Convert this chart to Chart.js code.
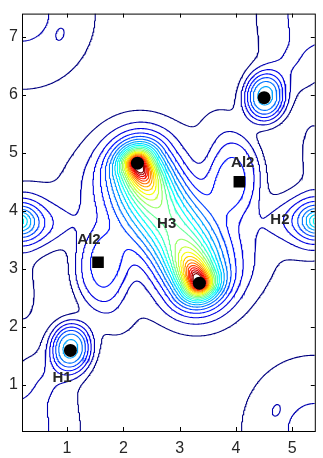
<!DOCTYPE html>
<html>
<head>
<meta charset="utf-8">
<script src="https://cdn.jsdelivr.net/npm/chart.js@4.4.1/dist/chart.umd.min.js"></script>
<style>
  html, body { margin: 0; padding: 0; background: #fff; }
  #wrap { width: 323px; height: 458px; }
</style>
</head>
<body>
<div id="wrap"><canvas id="myChart"></canvas></div>
<script>
// axis ranges and ticks
const xRange = [0.2, 5.4];
const yRange = [0.2, 7.4];
const xTicks = [1, 2, 3, 4, 5];
const yTicks = [1, 2, 3, 4, 5, 6, 7];

// black dots (H atoms) and black squares (Al2)
const atomX = [2.25, 3.35, 1.06, 4.50];
const atomY = [4.82, 2.75, 1.59, 5.95];
const alX = [1.55, 4.06];
const alY = [3.11, 4.50];

// text labels
const labelText = ['Al2', 'Al2', 'H3', 'H2', 'H1'];
const labelX = [1.39, 4.12, 2.77, 4.78, 0.91];
const labelY = [3.49, 4.82, 3.78, 3.85, 1.11];

// the H3 pair: peak height (contour steps) and decay lengths
const h3X = [2.25, 3.35];
const h3Y = [4.82, 2.75];
const h3Height = 27;
const h3Outer = 0.25;   // away from the partner
const h3Inner = 0.53;   // towards the partner
const h3Side = 0.28;
const ridgeHeight = 1.4;
const ridgeLength = 1.25;
const ridgeWidth = 0.74;

// other density bumps: centre, height (contour steps),
// width along the long axis, short/long ratio, angle of long axis, sharpness
//                 cloud  H1    H1'   H2r   H2l   H2r~  H2l~  Al2   Al2'  cA    cA'   cB    cB'   isl   isl'  br    br'   H1~   H1'~  edge  edge'
const srcX      = [2.79,  1.07, 4.51, 5.43, 0.17, 5.00, 0.58, 1.60, 3.98, 0.20, 5.40, 0.20, 5.40, 0.89, 4.70, 1.85, 3.73, 0.70, 4.88, 0.22, 5.38];
const srcY      = [3.80,  1.64, 5.96, 3.82, 3.82, 3.85, 3.75, 2.98, 4.62, 7.40, 0.20, 0.20, 7.40, 7.03, 0.57, 2.10, 5.50, 1.15, 6.45, 2.55, 5.05];
const srcHeight = [3.8,   7.0,  7.0,  8.5,  8.5,  1.6,  1.6,  3.8,  3.8,  2.13, 2.13, 2.3,  2.3,  0.5,  0.5,  1.0,  1.0,  1.0,  1.0,  1.3,  1.3];
const srcWidth  = [1.50,  0.42, 0.42, 0.34, 0.34, 0.70, 0.70, 0.68, 0.68, 1.40, 1.40, 1.07, 1.07, 0.17, 0.17, 0.50, 0.50, 0.45, 0.45, 0.60, 0.60];
const srcRatio  = [0.47,  0.85, 0.85, 1,    1,    0.55, 0.55, 0.72, 0.72, 1,    1,    1,    1,    0.6,  0.6,  1,    1,    1,    1,    0.5,  0.5];
const srcAngle  = [-22,   90,   90,   0,    0,    0,    0,    90,   90,   0,    0,    0,    0,    70,   70,   0,    0,    0,    0,    90,   90];
const srcPower  = [2,     2.6,  2.6,  1.3,  1.3,  2,    2,    3,    3,    2,    2,    2,    2,    2,    2,    2,    2,    2,    2,    2,    2];
const baseLevel = 0.1;

// contour levels
const levels = [1, 2, 3, 4, 5, 6, 7, 8, 9, 10, 11, 12, 13, 14, 15, 16, 17, 18, 19, 20, 21, 22];

const bx = h3X[1] - h3X[0], by = h3Y[1] - h3Y[0];
const bl = Math.hypot(bx, by), ux = bx / bl, uy = by / bl;
const mx = (h3X[0] + h3X[1]) / 2, my = (h3Y[0] + h3Y[1]) / 2;

function density(x, y) {
    let f = baseLevel;
    for (let i = 0; i < srcX.length; i++) {
        const t = srcAngle[i] * Math.PI / 180;
        const dx = x - srcX[i], dy = y - srcY[i];
        const a = (dx * Math.cos(t) + dy * Math.sin(t)) / srcWidth[i];
        const b = (-dx * Math.sin(t) + dy * Math.cos(t)) / (srcWidth[i] * srcRatio[i]);
        f += srcHeight[i] * Math.exp(-Math.pow(Math.hypot(a, b), srcPower[i]));
    }
    // H3 peaks, stretched towards each other
    for (let i = 0; i < 2; i++) {
        const sign = i === 0 ? 1 : -1;
        const dx = x - h3X[i], dy = y - h3Y[i];
        const s = sign * (dx * ux + dy * uy);
        const p = -dx * uy + dy * ux;
        const a = s / (s > 0 ? h3Inner : h3Outer);
        f += h3Height * Math.exp(-Math.hypot(a, p / h3Side));
    }
    // ridge between them
    const s = ((x - mx) * ux + (y - my) * uy) / ridgeLength;
    const d = (-(x - mx) * uy + (y - my) * ux) / ridgeWidth;
    f += ridgeHeight * Math.exp(-Math.pow(s, 4) - d * d);
    return f;
}

// matlab jet colours
function jet(v) {
    const c = t => Math.max(0, Math.min(1, t));
    const r = c(1.5 - Math.abs(4 * v - 3));
    const g = c(1.5 - Math.abs(4 * v - 2));
    const b = c(1.5 - Math.abs(4 * v - 1));
    return 'rgb(' + Math.round(r * 255) + ',' + Math.round(g * 255) + ',' + Math.round(b * 255) + ')';
}

// sample the field on a grid
const step = 0.02;
const nx = Math.round((xRange[1] - xRange[0]) / step) + 1;
const ny = Math.round((yRange[1] - yRange[0]) / step) + 1;
const grid = new Float64Array(nx * ny);
for (let j = 0; j < ny; j++) {
    for (let i = 0; i < nx; i++) {
        grid[j * nx + i] = density(xRange[0] + i * step, yRange[0] + j * step);
    }
}

// marching squares, then join segments into lines
function contourLines(L) {
    const pts = new Map();
    const segs = [];
    const hid = (i, j) => 2 * (j * nx + i);
    const vid = (i, j) => 2 * (j * nx + i) + 1;
    function point(id) {
        if (pts.has(id)) return;
        const k = id >> 1, i = k % nx, j = (k - i) / nx;
        const a = grid[k];
        if (id & 1) {
            const t = (L - a) / (grid[k + nx] - a);
            pts.set(id, {x: xRange[0] + i * step, y: yRange[0] + (j + t) * step});
        } else {
            const t = (L - a) / (grid[k + 1] - a);
            pts.set(id, {x: xRange[0] + (i + t) * step, y: yRange[0] + j * step});
        }
    }
    for (let j = 0; j < ny - 1; j++) {
        for (let i = 0; i < nx - 1; i++) {
            const v0 = grid[j * nx + i], v1 = grid[j * nx + i + 1];
            const v2 = grid[(j + 1) * nx + i + 1], v3 = grid[(j + 1) * nx + i];
            const c = (v0 > L ? 1 : 0) | (v1 > L ? 2 : 0) | (v2 > L ? 4 : 0) | (v3 > L ? 8 : 0);
            if (c === 0 || c === 15) continue;
            const e = [hid(i, j), vid(i + 1, j), hid(i, j + 1), vid(i, j)];
            const mid = (v0 + v1 + v2 + v3) / 4 > L;
            let list;
            switch (c) {
                case 1: case 14: list = [[3, 0]]; break;
                case 2: case 13: list = [[0, 1]]; break;
                case 3: case 12: list = [[3, 1]]; break;
                case 4: case 11: list = [[1, 2]]; break;
                case 6: case 9: list = [[0, 2]]; break;
                case 7: case 8: list = [[3, 2]]; break;
                case 5: list = mid ? [[0, 1], [2, 3]] : [[3, 0], [1, 2]]; break;
                case 10: list = mid ? [[3, 0], [1, 2]] : [[0, 1], [2, 3]]; break;
            }
            list.forEach(s => {
                point(e[s[0]]); point(e[s[1]]);
                segs.push([e[s[0]], e[s[1]]]);
            });
        }
    }
    const byEdge = new Map();
    segs.forEach((s, n) => {
        s.forEach(id => {
            if (!byEdge.has(id)) byEdge.set(id, []);
            byEdge.get(id).push(n);
        });
    });
    const used = new Uint8Array(segs.length);
    const out = [];
    function walk(start, n) {
        const chain = [];
        let id = start, cur = n;
        while (cur !== undefined && !used[cur]) {
            used[cur] = 1;
            const s = segs[cur];
            id = s[0] === id ? s[1] : s[0];
            chain.push(id);
            cur = byEdge.get(id).find(m => !used[m]);
        }
        return chain;
    }
    segs.forEach((s, n) => {
        if (used[n]) return;
        used[n] = 1;
        const fwd = walk(s[1], byEdge.get(s[1]).find(m => !used[m]));
        const bwd = walk(s[0], byEdge.get(s[0]).find(m => !used[m]));
        const ids = bwd.reverse().concat([s[0], s[1]], fwd);
        ids.forEach(id => out.push(pts.get(id)));
        out.push({x: out[out.length - 1].x, y: null});
    });
    return out;
}

const datasets = [];
datasets.push({
    data: atomX.map((x, i) => ({x: x, y: atomY[i]})),
    pointStyle: 'circle', pointRadius: 6.5, backgroundColor: '#000', borderColor: '#000',
    borderWidth: 0, showLine: false, order: 0
});
datasets.push({
    data: alX.map((x, i) => ({x: x, y: alY[i]})),
    pointStyle: 'rect', pointRadius: 8.2, backgroundColor: '#000', borderColor: '#000',
    borderWidth: 0, showLine: false, order: 0
});
levels.forEach(L => {
    datasets.push({
        data: contourLines(L),
        showLine: true, pointRadius: 0, borderWidth: 1.1,
        borderColor: jet((L - levels[0]) / (levels[levels.length - 1] - levels[0])),
        tension: 0, order: 1
    });
});

const framePlugin = {
    id: 'frame',
    afterDatasetsDraw(chart) {
        const ctx = chart.ctx, a = chart.chartArea;
        const xs = chart.scales.x, ys = chart.scales.y;
        ctx.save();
        ctx.font = 'bold 15px "Liberation Sans", Arial, sans-serif';
        ctx.fillStyle = '#262626';
        ctx.textAlign = 'center';
        ctx.textBaseline = 'middle';
        labelText.forEach((t, i) => {
            ctx.fillText(t, xs.getPixelForValue(labelX[i]), ys.getPixelForValue(labelY[i]));
        });
        ctx.strokeStyle = '#000';
        ctx.lineWidth = 1;
        ctx.strokeRect(a.left + 0.5, a.top + 0.5, a.right - a.left, a.bottom - a.top);
        ctx.beginPath();
        xTicks.forEach(v => {
            const px = Math.round(xs.getPixelForValue(v)) + 0.5;
            ctx.moveTo(px, a.bottom); ctx.lineTo(px, a.bottom - 4);
            ctx.moveTo(px, a.top); ctx.lineTo(px, a.top + 4);
        });
        yTicks.forEach(v => {
            const py = Math.round(ys.getPixelForValue(v)) + 0.5;
            ctx.moveTo(a.left, py); ctx.lineTo(a.left + 4, py);
            ctx.moveTo(a.right, py); ctx.lineTo(a.right - 4, py);
        });
        ctx.stroke();
        ctx.restore();
    }
};

new Chart(document.getElementById('myChart'), {
    type: 'scatter',
    data: {datasets: datasets},
    options: {
        responsive: true,
        maintainAspectRatio: false,
        animation: false,
        events: [],
        layout: {padding: {top: 4, right: 0, left: 0, bottom: 0}},
        plugins: {legend: {display: false}, tooltip: {enabled: false}},
        scales: {
            x: {
                type: 'linear', min: xRange[0], max: xRange[1],
                grid: {display: false, drawTicks: false}, border: {display: false},
                afterBuildTicks: s => { s.ticks = xTicks.map(v => ({value: v})); },
                afterFit: s => { s.height = 27; },
                ticks: {padding: 8, color: '#262626', font: {family: '"Liberation Sans", Arial, sans-serif', size: 16}}
            },
            y: {
                type: 'linear', min: yRange[0], max: yRange[1],
                grid: {display: false, drawTicks: false}, border: {display: false},
                afterBuildTicks: s => { s.ticks = yTicks.map(v => ({value: v})); },
                afterFit: s => { s.width = 22; },
                ticks: {padding: 4, color: '#262626', font: {family: '"Liberation Sans", Arial, sans-serif', size: 16}}
            }
        }
    },
    plugins: [framePlugin]
});
</script>
</body>
</html>
